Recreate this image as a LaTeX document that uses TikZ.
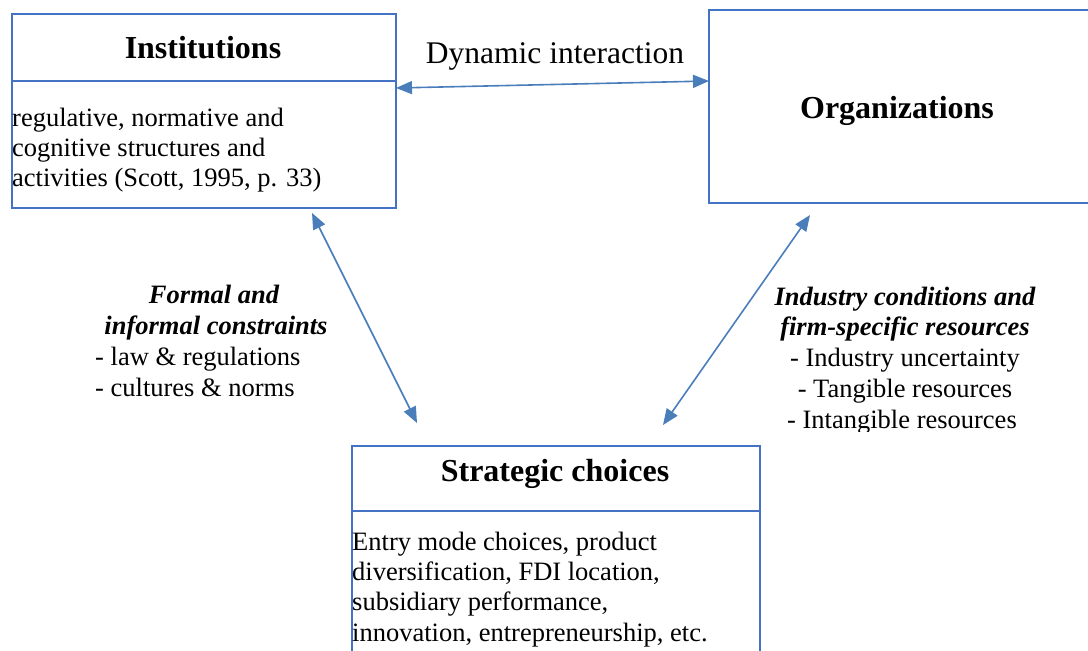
\documentclass[tikz,border=0pt]{standalone}
\usepackage{fontspec}
\setmainfont{Liberation Serif}
\usetikzlibrary{arrows.meta}
\definecolor{boxblue}{RGB}{68,114,196}
\definecolor{arrowblue}{RGB}{74,126,187}
\tikzset{
  panel/.style={draw=boxblue, line width=1.8pt, inner sep=0pt, anchor=north west},
  divider/.style={draw=boxblue, line width=1.8pt},
  link/.style={draw=arrowblue, line width=1.6pt,
    {Triangle[length=16pt,width=13pt]}-{Triangle[length=16pt,width=13pt]}},
  title/.style={font=\fontsize{32}{36}\selectfont\bfseries, inner sep=0pt, anchor=base},
  body/.style={font=\fontsize{26.5}{30}\selectfont, inner sep=0pt, anchor=base west},
  label/.style={font=\fontsize{26.5}{30}\selectfont, inner sep=0pt, anchor=base},
  labelhead/.style={label, font=\fontsize{26.5}{30}\selectfont\bfseries\itshape},
}
\begin{document}
\begin{tikzpicture}[x=1pt, y=-1pt]
\useasboundingbox (0,0) rectangle (1088,651);

% Institutions
\node[panel, minimum width=384pt, minimum height=194pt] (inst) at (11,13) {};
\draw[divider] (11,81) -- (395,81);
\node[title] (insttitle) at (203,58) {Institutions};
\node[body] (instl1) at (12,126) {regulative, normative and};
\node[body] (instl2) at (12,156) {cognitive structures and};
\node[body] (instl3) at (12,186) {activities (Scott, 1995, p. 33)};

% Organizations (runs past the right edge)
\node[panel, minimum width=420pt, minimum height=193pt] (org) at (708,9) {};
\node[title] (orgtitle) at (897,118) {Organizations};

% Strategic choices (runs past the bottom edge)
\node[panel, minimum width=408pt, minimum height=240pt] (strat) at (351,445) {};
\draw[divider] (351,511) -- (759,511);
\node[title] (strattitle) at (555,481) {Strategic choices};
\node[body] (stratl1) at (352,550) {Entry mode choices, product};
\node[body] (stratl2) at (352,580) {diversification, FDI location,};
\node[body] (stratl3) at (352,610) {subsidiary performance,};
\node[body] (stratl4) at (352,641) {innovation, entrepreneurship, etc.};

% Interaction between institutions and organizations
\node[font=\fontsize{31.5}{36}\selectfont, inner sep=0pt, anchor=base] (dyn) at (555,63) {Dynamic interaction};
\coordinate (dynL) at (396,88);
\coordinate (dynR) at (709,81);
\draw[link] (dynL) -- (dynR);

% Institutions <-> strategic choices
\coordinate (instS) at (312,213);
\coordinate (stratW) at (417,423);
\draw[link] (instS) -- (stratW);

% Organizations <-> strategic choices
\coordinate (orgS) at (810,215);
\coordinate (stratE) at (663,425);
\draw[link] (orgS) -- (stratE);

% Left label
\node[labelhead] (fh1) at (214,303) {Formal and};
\node[labelhead] (fh2) at (216,334) {informal constraints};
\node[label, anchor=base west] (fl1) at (95,365) {- law \& regulations};
\node[label, anchor=base west] (fl2) at (95,396) {- cultures \& norms};

% Right label (last line cut off at the bottom)
\begin{scope}
\clip (700,270) rectangle (1088,431);
\node[labelhead] (ih1) at (905,305) {Industry conditions and};
\node[labelhead] (ih2) at (905,335) {firm-specific resources};
\node[label] (il1) at (905,366) {- Industry uncertainty};
\node[label] (il2) at (905,397) {- Tangible resources};
\node[label] (il3) at (902,428) {- Intangible resources};
\end{scope}
\end{tikzpicture}
\end{document}
